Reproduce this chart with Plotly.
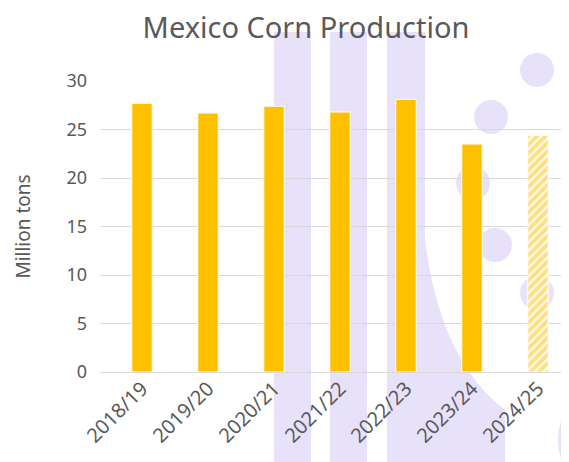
import plotly.graph_objects as go

seasons = ["2018/19", "2019/20", "2020/21", "2021/22", "2022/23", "2023/24", "2024/25"]
production = [27.7, 26.7, 27.4, 26.8, 28.1, 23.5, 24.4]
patterns = ["", "", "", "", "", "", "/"]
y_ticks = [0, 5, 10, 15, 20, 25, 30]

# the page body adds an 8px offset; work in screen pixels and convert
OFF = 8
W, H = 569 - OFF, 462 - OFF
L, R, T, B = 100 - OFF, 0, 81 - OFF, 90
PW, PH = W - L - R, H - T - B

def px(xs):
    return (xs - OFF - L) / PW

def py(ys):
    return (H - B - (ys - OFF)) / PH

wm = "#E7E1FA"
shapes = []
for x0, x1 in [(274, 311), (330, 367)]:
    shapes.append(dict(type="rect", xref="paper", yref="paper", layer="below",
                       x0=px(x0), x1=px(x1), y0=py(470), y1=py(32),
                       fillcolor=wm, line=dict(width=0)))
path = "M {a},{b} L {c},{b} L {c},{d} Q {e},{f} {g},{h} L {g},{i} L {a},{i} Z".format(
    a=px(387), b=py(32), c=px(425), d=py(240), e=px(440), f=py(360), g=px(505), h=py(410), i=py(470))
shapes.append(dict(type="path", xref="paper", yref="paper", layer="below", path=path,
                   fillcolor=wm, line=dict(width=0)))
for cx, cy, r in [(537, 70, 17), (491, 117, 17), (473, 183, 17), (495, 245, 17),
                  (537, 293, 17), (605, 183, 43), (622, 440, 64)]:
    shapes.append(dict(type="circle", xref="paper", yref="paper", layer="below",
                       x0=px(cx - r), x1=px(cx + r), y0=py(cy + r), y1=py(cy - r),
                       fillcolor=wm, line=dict(width=0)))

fig = go.Figure(go.Bar(
    x=seasons, y=production, width=0.31,
    marker=dict(color="#FFC000", line=dict(color="white", width=1),
                pattern=dict(shape=patterns, fgcolor="#FFC000", bgcolor="white",
                             size=6, solidity=0.68)),
))

font = "Noto Sans, Open Sans, sans-serif"
fig.update_layout(
    width=W, height=H,
    margin=dict(l=L, r=R, t=T, b=B, pad=0),
    paper_bgcolor="white", plot_bgcolor="rgba(0,0,0,0)",
    showlegend=False,
    shapes=shapes,
    title=dict(text="Mexico Corn Production", x=(306 - OFF) / W, xanchor="center",
               y=1 - (28 - OFF) / H, yanchor="middle", yref="container",
               font=dict(family=font, size=29, color="#595959")),
    xaxis=dict(range=[-0.636, 6.47], tickangle=-45, showgrid=False, showline=False,
               automargin=False, ticks="",
               tickfont=dict(family=font, size=20, color="#595959")),
    yaxis=dict(range=[0, 30], tickvals=y_ticks, showgrid=True, gridcolor="#D9D9D9",
               gridwidth=1, zeroline=True, zerolinecolor="#D9D9D9", zerolinewidth=1,
               automargin=False, ticks="", ticklabelstandoff=12,
               tickfont=dict(family=font, size=18, color="#595959"),
               title=dict(text="Million tons", standoff=30,
                          font=dict(family=font, size=19, color="#595959"))),
)

fig.write_html("out.html")
